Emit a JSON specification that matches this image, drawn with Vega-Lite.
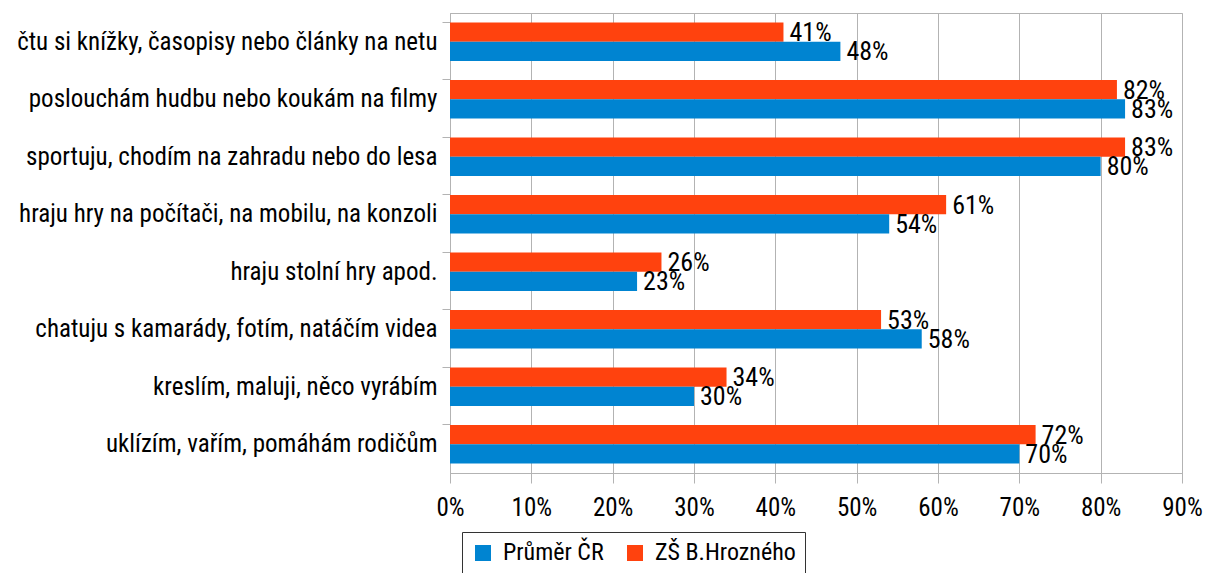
{
  "$schema": "https://vega.github.io/schema/vega-lite/v6.json",
  "autosize": {"type": "none"},
  "padding": {"left": 450, "top": 13, "right": 23, "bottom": 100},
  "width": 732,
  "height": 460,
  "config": {
    "font": "Roboto Condensed, DejaVu Sans Condensed, sans-serif",
    "view": {"stroke": "#b3b3b3"},
    "axis": {"labelFont": "Roboto Condensed, DejaVu Sans Condensed, sans-serif", "labelColor": "#000000", "labelFontSize": 24, "domainColor": "#b3b3b3", "tickColor": "#b3b3b3", "gridColor": "#b3b3b3"}
  },
  "data": {
    "values": [
      {"cat": "čtu si knížky, časopisy nebo články na netu", "series": "ZŠ B.Hrozného", "v": 0.41},
      {"cat": "čtu si knížky, časopisy nebo články na netu", "series": "Průměr ČR", "v": 0.48},
      {"cat": "poslouchám hudbu nebo koukám na filmy", "series": "ZŠ B.Hrozného", "v": 0.82},
      {"cat": "poslouchám hudbu nebo koukám na filmy", "series": "Průměr ČR", "v": 0.83},
      {"cat": "sportuju, chodím na zahradu nebo do lesa", "series": "ZŠ B.Hrozného", "v": 0.83},
      {"cat": "sportuju, chodím na zahradu nebo do lesa", "series": "Průměr ČR", "v": 0.80},
      {"cat": "hraju hry na počítači, na mobilu, na konzoli ", "series": "ZŠ B.Hrozného", "v": 0.61},
      {"cat": "hraju hry na počítači, na mobilu, na konzoli ", "series": "Průměr ČR", "v": 0.54},
      {"cat": "hraju stolní hry apod. ", "series": "ZŠ B.Hrozného", "v": 0.26},
      {"cat": "hraju stolní hry apod. ", "series": "Průměr ČR", "v": 0.23},
      {"cat": "chatuju s kamarády, fotím, natáčím videa", "series": "ZŠ B.Hrozného", "v": 0.53},
      {"cat": "chatuju s kamarády, fotím, natáčím videa", "series": "Průměr ČR", "v": 0.58},
      {"cat": "kreslím, maluji, něco vyrábím ", "series": "ZŠ B.Hrozného", "v": 0.34},
      {"cat": "kreslím, maluji, něco vyrábím ", "series": "Průměr ČR", "v": 0.30},
      {"cat": "uklízím, vařím, pomáhám rodičům", "series": "ZŠ B.Hrozného", "v": 0.72},
      {"cat": "uklízím, vařím, pomáhám rodičům", "series": "Průměr ČR", "v": 0.70}
    ]
  },
  "encoding": {
    "y": {
      "field": "cat", "type": "nominal", "sort": null, "title": null,
      "scale": {"paddingInner": 0.33, "paddingOuter": 0.165},
      "axis": {"bandPosition": 0, "tickSize": 8, "labelPadding": 5, "grid": false, "labelLimit": 0, "labelFontSize": 25}
    },
    "yOffset": {"field": "series", "type": "nominal", "sort": ["ZŠ B.Hrozného", "Průměr ČR"]},
    "x": {
      "field": "v", "type": "quantitative", "title": null,
      "scale": {"domain": [0, 0.9], "nice": false},
      "axis": {"format": ".0%", "values": [0, 0.1, 0.2, 0.3, 0.4, 0.5, 0.6, 0.7, 0.8, 0.9], "tickSize": 10, "labelPadding": 12, "grid": true, "labelFlush": false, "labelOverlap": false, "labelFontSize": 25}
    }
  },
  "layer": [
    {
      "mark": {"type": "bar"},
      "encoding": {
        "color": {
          "field": "series", "type": "nominal",
          "scale": {"domain": ["Průměr ČR", "ZŠ B.Hrozného"], "range": ["#0084d1", "#ff420e"]},
          "legend": {
            "title": null, "orient": "none", "direction": "horizontal",
            "legendX": 12, "legendY": 519,
            "symbolType": "square", "symbolSize": 256, "symbolStrokeWidth": 0,
            "labelFont": "Roboto Condensed, DejaVu Sans Condensed, sans-serif", "labelFontSize": 24, "labelColor": "#000000",
            "strokeColor": "#333333", "padding": 9, "columnPadding": 19, "labelOffset": 8
          }
        }
      }
    },
    {
      "mark": {"type": "text", "align": "left", "baseline": "middle", "dx": 6, "dy": 1, "fontSize": 26, "font": "Roboto Condensed, DejaVu Sans Condensed, sans-serif", "color": "#000000"},
      "encoding": {
        "text": {"field": "v", "type": "quantitative", "format": ".0%"}
      }
    }
  ]
}
